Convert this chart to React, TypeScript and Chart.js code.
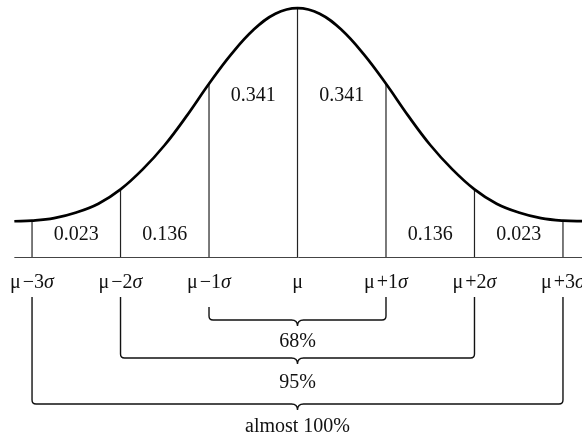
import { useEffect, useRef } from 'react';
import { Chart, registerables } from 'chart.js';

Chart.register(...registerables);

// Curve sample points (in units of σ from μ) and heights
const curveX = [-3.2, -3, -2.75, -2.5, -2.25, -2, -1.75, -1.5, -1.25, -1, -0.75, -0.5, -0.25, 0, 0.25, 0.5, 0.75, 1, 1.25, 1.5, 1.75, 2, 2.25, 2.5, 2.75, 3, 3.25];
const curveY = [0.058, 0.059, 0.063, 0.072, 0.086, 0.109, 0.141, 0.18, 0.227, 0.278, 0.325, 0.364, 0.39, 0.399, 0.39, 0.364, 0.325, 0.278, 0.227, 0.18, 0.141, 0.109, 0.086, 0.072, 0.063, 0.059, 0.058];

// Tick positions and labels
const sigmaSteps = [-3, -2, -1, 0, 1, 2, 3];
const tickLabels = ['μ−3σ', 'μ−2σ', 'μ−1σ', 'μ', 'μ+1σ', 'μ+2σ', 'μ+3σ'];

// Area labels between the vertical lines
const areaCenters = [-2.5, -1.5, -0.5, 0.5, 1.5, 2.5];
const areaLabels = ['0.023', '0.136', '0.341', '0.341', '0.136', '0.023'];

// Ranges (±kσ) and their labels
const rangeWidths = [1, 2, 3];
const rangeLabels = ['68%', '95%', 'almost 100%'];

const FONT = '"Liberation Serif", "Times New Roman", serif';

const annotationPlugin = {
  id: 'normalAnnotations',
  afterDatasetsDraw(chart: any) {
    const ctx: CanvasRenderingContext2D = chart.ctx;
    const xs = chart.scales.x;
    const ys = chart.scales.y;
    const base = ys.getPixelForValue(0);
    ctx.save();
    ctx.fillStyle = '#111';
    ctx.textBaseline = 'alphabetic';

    // area labels
    ctx.font = `20px ${FONT}`;
    ctx.textAlign = 'center';
    areaCenters.forEach((c, i) => {
      const yVal = Math.abs(c) < 1 ? 0.251 : 0.028;
      ctx.fillText(areaLabels[i], xs.getPixelForValue(c), ys.getPixelForValue(yVal));
    });

    // tick labels with italic sigma
    ctx.textAlign = 'left';
    sigmaSteps.forEach((k, i) => {
      const label = tickLabels[i];
      const cx = xs.getPixelForValue(k);
      const y = base + 30;
      const hasSigma = label.endsWith('σ');
      const main = hasSigma ? label.slice(0, -1) : label;
      const mu = main.slice(0, 1);
      const rest = main.slice(1);
      ctx.font = `20px ${FONT}`;
      const gap = rest ? 2 : 0;
      const wMu = ctx.measureText(mu).width;
      const wRest = ctx.measureText(rest).width;
      ctx.font = `italic 20px ${FONT}`;
      const wSig = hasSigma ? ctx.measureText('σ').width : 0;
      const total = wMu + gap + wRest + wSig;
      let x = cx - total / 2;
      ctx.font = `20px ${FONT}`;
      ctx.fillText(mu, x, y);
      x += wMu + gap;
      if (rest) {
        ctx.fillText(rest, x, y);
        x += wRest;
      }
      if (hasSigma) {
        ctx.font = `italic 20px ${FONT}`;
        ctx.fillText('σ', x, y);
      }
    });

    // brackets
    const hOffsets = [62.5, 100.5, 146.5];
    const labelOffsets = [89.5, 130.5, 174];
    ctx.strokeStyle = '#111';
    ctx.lineWidth = 1.4;
    ctx.font = `20px ${FONT}`;
    ctx.textAlign = 'center';
    rangeWidths.forEach((w, i) => {
      const x1 = xs.getPixelForValue(-w);
      const x2 = xs.getPixelForValue(w);
      const mid = xs.getPixelForValue(0);
      const h = base + hOffsets[i];
      const topL = base + (w === 1 ? 49.5 : 39.5);
      const topR = base + 39.5;
      const r = 4;
      ctx.beginPath();
      ctx.moveTo(x1, topL);
      ctx.lineTo(x1, h - r);
      ctx.quadraticCurveTo(x1, h, x1 + r, h);
      ctx.lineTo(mid - 6, h);
      ctx.quadraticCurveTo(mid, h, mid, h + 6);
      ctx.quadraticCurveTo(mid, h, mid + 6, h);
      ctx.lineTo(x2 - r, h);
      ctx.quadraticCurveTo(x2, h, x2, h - r);
      ctx.lineTo(x2, topR);
      ctx.stroke();
      ctx.fillText(rangeLabels[i], mid, base + labelOffsets[i]);
    });

    ctx.restore();
  },
};

export default function App() {
  const ref = useRef<HTMLCanvasElement | null>(null);

  useEffect(() => {
    if (!ref.current) return;
    const curve = curveX.map((x, i) => ({ x, y: curveY[i] }));
    const verticals = sigmaSteps.map((k) => ({
      data: [
        { x: k, y: 0 },
        { x: k, y: curveY[curveX.indexOf(k)] },
      ],
      borderColor: '#222',
      borderWidth: 1.2,
      pointRadius: 0,
      fill: false,
    }));
    const chart = new Chart(ref.current, {
      type: 'line',
      data: {
        datasets: [
          {
            data: curve,
            borderColor: '#000',
            borderWidth: 2.7,
            pointRadius: 0,
            fill: false,
            tension: 0.4,
          } as any,
          {
            data: [
              { x: curveX[0], y: 0 },
              { x: curveX[curveX.length - 1], y: 0 },
            ],
            borderColor: '#444',
            borderWidth: 1,
            pointRadius: 0,
            fill: false,
          },
          ...verticals,
        ],
      },
      options: {
        animation: false,
        responsive: false,
        events: [],
        layout: { padding: 0 },
        plugins: { legend: { display: false }, tooltip: { enabled: false } },
        scales: {
          x: { type: 'linear', min: -3.362, max: 3.215, display: false },
          y: { type: 'linear', min: -0.2824, max: 0.412, display: false },
        },
      },
      plugins: [annotationPlugin],
    });
    return () => chart.destroy();
  }, []);

  return (
    <div style={{ position: 'absolute', left: 0, top: 0, width: 582, height: 434, background: '#fff' }}>
      <canvas ref={ref} width={582} height={434} style={{ display: 'block' }} />
    </div>
  );
}
